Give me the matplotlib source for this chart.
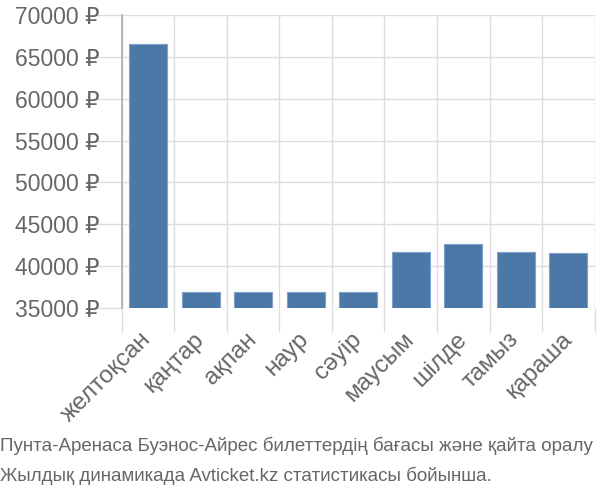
import matplotlib
matplotlib.use("Agg")
import matplotlib.pyplot as plt
import numpy as np

categories = ["желтоқсан", "қаңтар", "ақпан", "наур", "сәуір", "маусым", "шілде", "тамыз", "қараша"]
values = [66500, 36900, 36900, 36900, 36900, 41650, 42700, 41650, 41550]
yticks = [35000, 40000, 45000, 50000, 55000, 60000, 65000, 70000]
ytick_labels = [f"{v} ₽" for v in yticks]
caption = ["Пунта-Аренаса Буэнос-Айрес билеттердің бағасы және қайта оралу",
           "Жылдық динамикада Avticket.kz статистикасы бойынша."]

FAM = ['Liberation Sans', 'DejaVu Sans']
plt.rcParams['font.family'] = FAM

fig = plt.figure(figsize=(6, 5), dpi=100)
ax = fig.add_axes([0.203, 0.384, 0.788, 0.586])

x = np.arange(len(categories))
ax.bar(x, values, width=0.72, bottom=0, color="#4c78a8", edgecolor="#7f9fc6", linewidth=0.8, zorder=3)

ax.set_ylim(35000, 70000)
ax.set_xlim(-0.5, len(categories) - 0.5)

ax.set_yticks(yticks)
ax.set_yticklabels(ytick_labels, fontsize=16.5, color="#666666", family=FAM)
ax.tick_params(axis='y', length=20, color="#dddddd", width=1, pad=-4)

ax.set_xticks(x)
ax.set_xticklabels(categories, rotation=45, ha='right', va='center', rotation_mode='anchor',
                   fontsize=17.5, color="#666666", family=FAM)
ax.tick_params(axis='x', which='major', length=0, pad=20)
ax.set_xticks(np.arange(-0.5, len(categories)), minor=True)
ax.tick_params(axis='x', which='minor', length=17, color="#dddddd", width=1)

ax.grid(axis='y', color="#dddddd", linewidth=1, zorder=0)
ax.grid(axis='x', which='minor', color="#dddddd", linewidth=1, zorder=0)

for s in ['top', 'right', 'bottom']:
    ax.spines[s].set_visible(False)
ax.spines['left'].set_color("#aaaaaa")
ax.spines['left'].set_linewidth(1.2)
ax.spines['left'].set_zorder(4)

fig.text(0.0, 0.108, caption[0], fontsize=13.5, color="#666666", family=FAM, va='center')
fig.text(0.0, 0.048, caption[1], fontsize=13.5, color="#666666", family=FAM, va='center')

fig.savefig("out.png", dpi=100)
